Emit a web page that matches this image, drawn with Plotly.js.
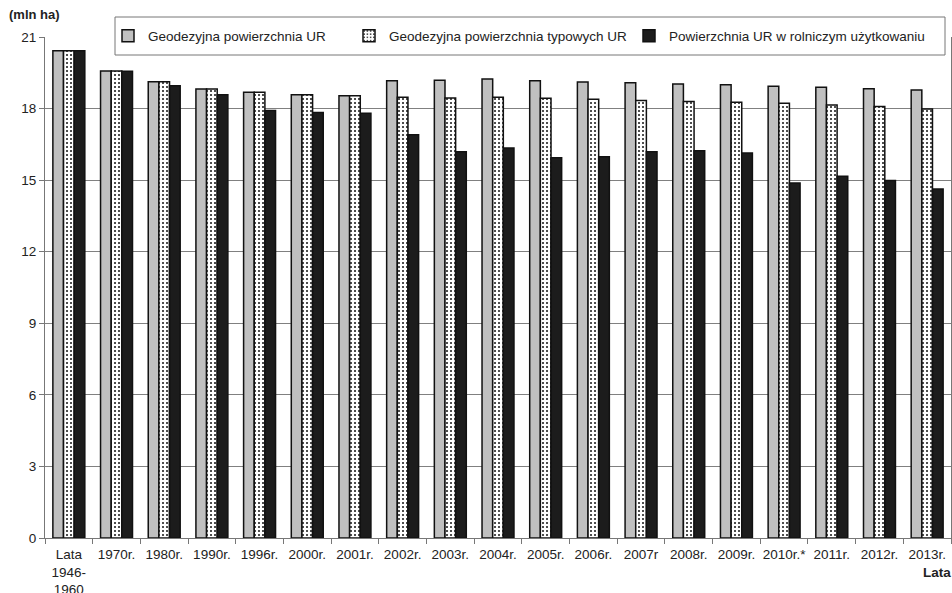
<!DOCTYPE html>
<html>
<head>
<meta charset="utf-8">
<script src="https://cdn.plot.ly/plotly-3.0.1.min.js"></script>
<style>html,body{margin:0;padding:0;background:#fff;}#chart{width:952px;height:593px;}</style>
</head>
<body>
<div id="chart"></div>
<script>
const categories = ["Lata<br>1946-<br>1960","1970r.","1980r.","1990r.","1996r.","2000r.","2001r.","2002r.","2003r.","2004r.","2005r.","2006r.","2007r","2008r.","2009r.","2010r.*","2011r.","2012r.","2013r."];
const seriesNames = ["Geodezyjna powierzchnia UR","Geodezyjna powierzchnia typowych UR","Powierzchnia UR w rolniczym użytkowaniu"];
const geodezyjna = [20.42,19.58,19.12,18.82,18.68,18.58,18.54,19.17,19.19,19.24,19.17,19.11,19.08,19.03,19.00,18.94,18.89,18.83,18.78];
const typowych   = [20.42,19.58,19.12,18.82,18.68,18.58,18.54,18.47,18.44,18.47,18.43,18.39,18.34,18.30,18.26,18.22,18.15,18.09,17.98];
const rolniczym  = [20.42,19.56,18.96,18.58,17.92,17.84,17.80,16.90,16.19,16.35,15.94,15.98,16.19,16.23,16.14,14.88,15.16,14.98,14.63];
const yTicks = [0,3,6,9,12,15,18,21];

const line = {color:"#111", width:1.5};
const traces = [
  {type:"bar", name:seriesNames[0], x:categories, y:geodezyjna, legend:"legend",
   marker:{color:"#c0c0c0", line:line}},
  {type:"bar", name:seriesNames[1], x:categories, y:typowych, legend:"legend2",
   marker:{color:"#ffffff", line:line, pattern:{shape:".", fgcolor:"#222", bgcolor:"#ffffff", size:4, solidity:0.22}}},
  {type:"bar", name:seriesNames[2], x:categories, y:rolniczym, legend:"legend3",
   marker:{color:"#1c1c1c", line:line}}
];

// plot area in pixels: left 45, width 906, top 37, height 501
const W = 906, H = 501;
const px = v => (v - 45) / W;
const py = v => 1 - (v - 37) / H;
const legBase = {orientation:"h", xanchor:"left", y:py(36), yanchor:"middle",
                 bgcolor:"rgba(0,0,0,0)", borderwidth:0, font:{size:13.5, color:"#222"}};

const layout = {
  width:952, height:593,
  margin:{l:45, r:1, t:37, b:55},
  paper_bgcolor:"#fff", plot_bgcolor:"#fff",
  font:{family:"Liberation Sans, Arial, sans-serif", size:13.5, color:"#222"},
  barmode:"group", bargap:0.33, bargroupgap:0,
  showlegend:true,
  legend:Object.assign({}, legBase, {x:px(108)}),
  legend2:Object.assign({}, legBase, {x:px(349)}),
  legend3:Object.assign({}, legBase, {x:px(629)}),
  xaxis:{type:"category", tickson:"boundaries", ticks:"outside", ticklen:5, tickcolor:"#777",
         showline:true, linecolor:"#777", linewidth:1, showgrid:false, tickangle:0,
         ticklabelstandoff:4, tickfont:{size:13.5, color:"#222"}, fixedrange:true},
  yaxis:{range:[0,21], tickvals:yTicks, ticks:"outside", ticklen:5, tickcolor:"#777",
         showline:true, linecolor:"#777", linewidth:1, mirror:true,
         showgrid:true, gridcolor:"#808080", gridwidth:1, zeroline:false,
         tickfont:{size:13.5, color:"#222"}, fixedrange:true},
  shapes:[
    {type:"rect", xref:"paper", yref:"paper", x0:px(115), x1:px(945), y0:py(55), y1:py(17),
     line:{color:"#777", width:1}, fillcolor:"#fff", layer:"above"}
  ],
  annotations:[
    {text:"<b>(mln ha)</b>", xref:"paper", yref:"paper", x:px(7), y:py(15), xanchor:"left", yanchor:"middle", showarrow:false, font:{size:13, color:"#222"}},
    {text:"<b>Lata</b>", xref:"paper", yref:"paper", x:px(953), y:py(572), xanchor:"right", yanchor:"middle", showarrow:false, font:{size:13.5, color:"#222"}}
  ]
};
Plotly.newPlot("chart", traces, layout, {displayModeBar:false, staticPlot:true});
</script>
</body>
</html>
